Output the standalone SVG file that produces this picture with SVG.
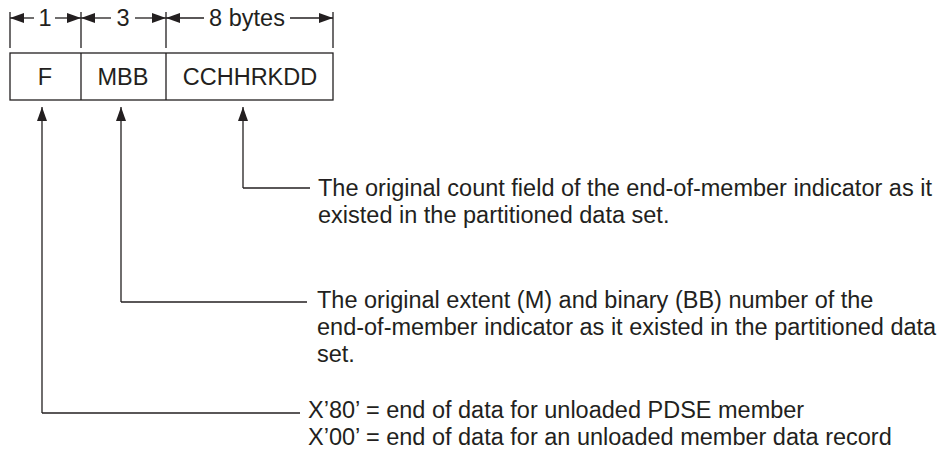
<svg xmlns="http://www.w3.org/2000/svg" width="952" height="455" viewBox="0 0 952 455">
<defs>
<marker id="ah" markerWidth="14" markerHeight="10" refX="14" refY="5" orient="auto" markerUnits="userSpaceOnUse">
<path d="M0,0 L14,5 L0,10 Z" fill="#231f20"/>
</marker>
</defs>
<style>
text{font-family:"Liberation Sans",Arial,sans-serif;font-size:23.5px;fill:#231f20}
.c{text-anchor:middle}
.ln{stroke:#231f20;stroke-width:1.3;fill:none}
</style>
<rect width="952" height="455" fill="#fff"/>
<g id="dimensions">
<path class="ln" d="M10,12V48M81,12V48M166,12V48M333,12V48"/>
<path class="ln" d="M34,18H10" marker-end="url(#ah)"/>
<path class="ln" d="M55,18H81" marker-end="url(#ah)"/>
<path class="ln" d="M111,18H81" marker-end="url(#ah)"/>
<path class="ln" d="M135,18H166" marker-end="url(#ah)"/>
<path class="ln" d="M204,18H166" marker-end="url(#ah)"/>
<path class="ln" d="M290,18H333" marker-end="url(#ah)"/>
<text class="c" x="45" y="26">1</text>
<text class="c" x="123" y="26">3</text>
<text class="c" x="247" y="26">8 bytes</text>
</g>
<g id="record">
<rect class="ln" x="10" y="53" width="323" height="47"/>
<path class="ln" d="M81,53V100M166,53V100"/>
<text class="c" x="45" y="85">F</text>
<text class="c" x="123" y="85">MBB</text>
<text class="c" x="250" y="85">CCHHRKDD</text>
</g>
<g id="connectors">
<path class="ln" d="M243,188V107" marker-end="url(#ah)"/>
<path class="ln" d="M243,188H310"/>
<path class="ln" d="M121,302V107" marker-end="url(#ah)"/>
<path class="ln" d="M121,302H307"/>
<path class="ln" d="M42,413V107" marker-end="url(#ah)"/>
<path class="ln" d="M42,413H300"/>
</g>
<g id="note-count">
<text x="318" y="196">The original count field of the end-of-member indicator as it</text>
<text x="318" y="223">existed in the partitioned data set.</text>
</g>
<g id="note-extent">
<text x="317" y="308">The original extent (M) and binary (BB) number of the</text>
<text x="317" y="335">end-of-member indicator as it existed in the partitioned data</text>
<text x="317" y="362">set.</text>
</g>
<g id="note-flag">
<text x="308" y="418">X’80’ = end of data for unloaded PDSE member</text>
<text x="308" y="445">X’00’ = end of data for an unloaded member data record</text>
</g>
</svg>
